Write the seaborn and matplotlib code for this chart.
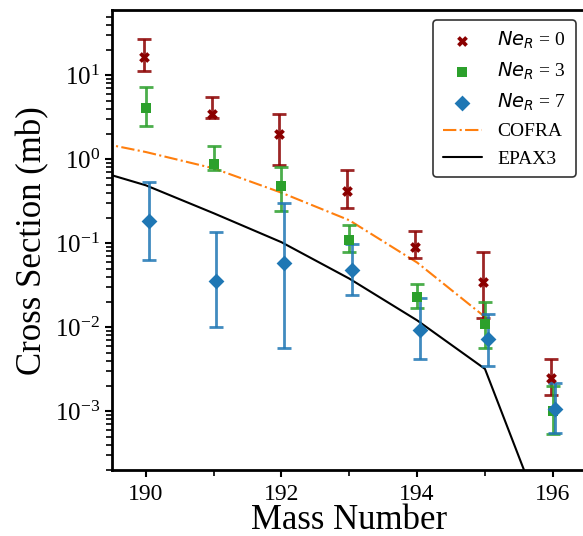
import numpy as np
import pandas as pd
import matplotlib
matplotlib.use("Agg")
import matplotlib.pyplot as plt
import seaborn as sns
from matplotlib.ticker import MultipleLocator, LogLocator, NullFormatter

mass = [190, 191, 192, 193, 194, 195, 196]

ne0_val = [16.5, 3.5, 2.02, 0.42, 0.090, 0.035, 0.00247]
ne0_hi = [26.8, 5.5, 3.5, 0.74, 0.14, 0.078, 0.0042]
ne0_lo = [11.2, 3.07, 0.85, 0.26, 0.067, 0.0128, 0.00155]

ne3_val = [4.08, 0.89, 0.48, 0.109, 0.0229, 0.0111, 0.0010]
ne3_hi = [7.3, 1.43, 0.81, 0.164, 0.033, 0.020, 0.0020]
ne3_lo = [2.52, 0.74, 0.24, 0.078, 0.017, 0.0057, 0.00054]

ne7_val = [0.183, 0.0356, 0.058, 0.048, 0.0092, 0.0073, 0.00108]
ne7_hi = [0.53, 0.136, 0.30, 0.097, 0.0226, 0.0143, 0.0022]
ne7_lo = [0.063, 0.0100, 0.0057, 0.024, 0.0042, 0.0035, 0.00056]

# model predictions
cofra_mass = [189, 190, 191, 192, 193, 194, 195]
cofra_val = [1.77, 1.22, 0.78, 0.40, 0.188, 0.059, 0.0133]
epax_mass = [189, 190, 191, 192, 193, 194, 195, 196]
epax_val = [0.85, 0.49, 0.228, 0.103, 0.038, 0.0121, 0.0032, 2.6e-5]

sns.set_style("ticks", {"text.color": "black", "axes.labelcolor": "black",
                        "xtick.color": "black", "ytick.color": "black"})
plt.rcParams["font.family"] = ["Liberation Serif", "DejaVu Serif"]
plt.rcParams["mathtext.fontset"] = "dejavusans"

fig = plt.figure(figsize=(5.83, 5.36), dpi=100)
ax = fig.add_axes([0.192, 0.123, 0.812, 0.858])

series = [
    (ne0_val, ne0_hi, ne0_lo, -0.03, "#8b0000", "X", 60, r"$Ne_R$ = 0"),
    (ne3_val, ne3_hi, ne3_lo, 0.0, "#2ca02c", "s", 60, r"$Ne_R$ = 3"),
    (ne7_val, ne7_hi, ne7_lo, 0.04, "#1f77b4", "D", 65, r"$Ne_R$ = 7"),
]
for val, hi, lo, dx, col, mk, sz, lab in series:
    x = np.array(mass) + dx
    v = np.array(val)
    yerr = [v - np.array(lo), np.array(hi) - v]
    ax.errorbar(x, v, yerr=yerr, fmt="none", ecolor=col, elinewidth=2,
                capsize=5, capthick=2, alpha=0.85, zorder=2)
    sns.scatterplot(x=x, y=v, marker=mk, color=col, s=sz, linewidth=0,
                    label=lab, ax=ax, zorder=3)

sns.lineplot(x=cofra_mass, y=cofra_val, color="#ff7f0e", linestyle="-.",
             linewidth=1.5, label="COFRA", ax=ax, zorder=1)
sns.lineplot(x=epax_mass, y=epax_val, color="black", linewidth=1.5,
             label="EPAX3", ax=ax, zorder=1)

ax.set_yscale("log")
ax.set_xlim(189.5, 196.48)
ax.set_ylim(2.0e-4, 59.5)
ax.xaxis.set_major_locator(MultipleLocator(2))
ax.xaxis.set_minor_locator(MultipleLocator(1))
ax.yaxis.set_major_locator(LogLocator(base=10, numticks=20))
ax.yaxis.set_minor_locator(LogLocator(base=10, subs=np.arange(2, 10), numticks=20))
ax.yaxis.set_minor_formatter(NullFormatter())
ax.tick_params(axis="x", which="major", labelsize=17, pad=5)
ax.tick_params(axis="y", which="major", labelsize=18)
ax.tick_params(axis="both", which="major", length=5, width=1.5, direction="out")
ax.tick_params(axis="both", which="minor", length=4, width=1.2, direction="out")
for sp in ax.spines.values():
    sp.set_linewidth(2)
    sp.set_color("black")

ax.set_xlabel("Mass Number", fontsize=25, labelpad=-1)
ax.set_ylabel("Cross Section (mb)", fontsize=25, labelpad=4)

leg = ax.legend(loc="upper right", fontsize=14, frameon=True, fancybox=True,
                edgecolor="#333333", framealpha=1, borderpad=0.5,
                handlelength=2.0, scatterpoints=1)
leg.get_frame().set_linewidth(1.2)

fig.savefig("out.png", dpi=100)
